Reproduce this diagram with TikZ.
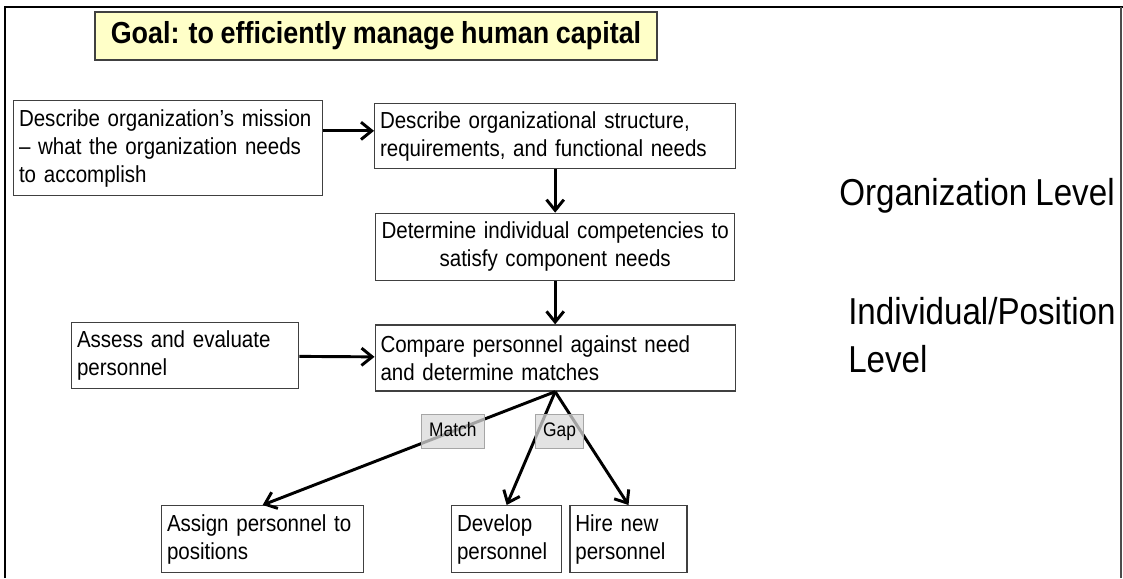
\documentclass[tikz,border=0pt]{standalone}
\usepackage{fontspec}
\setmainfont{Liberation Sans}[FakeStretch=0.885, WordSpace=0.885]
\usetikzlibrary{positioning,arrows.meta,calc}
\definecolor{goalfill}{RGB}{255,255,200}
\definecolor{edge}{RGB}{64,64,64}
\tikzset{
  blk/.style={draw=edge, line width=1pt, fill=white, align=left, anchor=north west,
              font=\fontsize{17.4}{21}\selectfont, inner xsep=4pt, inner ysep=3pt},
  goal/.style={draw=edge, line width=1pt, fill=goalfill, minimum width=421.5pt,
               minimum height=36pt, font=\bfseries\fontsize{22.8}{26}\selectfont},
  tag/.style={draw=black!35, line width=0.8pt, fill=black!15, fill opacity=0.75,
              text opacity=1, inner xsep=6pt, minimum height=25.5pt,
              text height=11pt, text depth=3pt, font=\fontsize{14.7}{16}\selectfont},
  lvl/.style={align=left, inner sep=0pt, font=\fontsize{28.1}{36}\selectfont},
  flow/.style={-{Straight Barb[length=8pt, width=13pt]}, line width=2.2pt},
}

\begin{document}
\begin{tikzpicture}[x=0.75pt, y=-0.75pt, node distance=32.5pt]
    \useasboundingbox (0,0) rectangle (1123,578);
    % slide frame
    \draw[line width=1.9pt] (5,578) -- (5,7) -- (1123,7);
    \draw[black!70, line width=0.8pt] (1121,7) -- (1121,578);

    \node[goal] (goal) at (376,36) {Goal: to efficiently manage human capital};

    \node[blk, text width=223.75pt, minimum height=71.25pt] (mission) at (13,100)
      {Describe organization’s mission\\-- what the organization needs\\to accomplish};
    \node[blk, text width=262.75pt, minimum height=48.75pt] (structure) at (374,103)
      {Describe organizational structure,\\requirements, and functional needs};
    \node[blk, text width=261.25pt, minimum height=50.25pt, align=center, below=of structure] (competency)
      {Determine individual competencies to\\satisfy component needs};
    \node[blk, text width=262pt, minimum height=49.5pt, below=of competency] (compare)
      {Compare personnel against need\\and determine matches};
    \node[blk, text width=162.25pt, minimum height=49.5pt] (assess) at (71,322)
      {Assess and evaluate\\personnel};
    \node[blk, text width=143.5pt, minimum height=50.25pt] (assign) at (161,505)
      {Assign personnel to\\positions};
    \node[blk, text width=74.5pt, minimum height=50.25pt] (develop) at (451,505)
      {Develop\\personnel};
    \node[blk, text width=79.75pt, minimum height=50.25pt, right=5.25pt of develop] (hire)
      {Hire new\\personnel};

    \node[lvl, anchor=base west] (orglvl) at (839,205) {Organization Level};
    \node[lvl, anchor=base west] (indlvl) at (848,372) {Individual/Position\\Level};

    \coordinate (in1) at ($(structure.north west)!.42!(structure.south west)$);
    \draw[flow] (mission.east |- in1) -- (in1);
    \foreach \a/\b in {structure/competency, competency/compare}
      \draw[flow] (\a.south) -- (\b.north);
    \draw[flow] (assess) -- (compare);

    \draw[flow] (compare.south) -- node[tag, pos=.35] (match) {Match} (assign.north);
    \draw[flow] (compare.south) -- (develop.north);
    \draw[flow] (compare.south) -- (hire.north);
    \coordinate (gapfoot) at ($(develop.north)!.5!(hire.north)$);
    \node[tag] (gap) at ($(compare.south)!.35!(gapfoot)$) {Gap};
  \end{tikzpicture}
\end{document}
